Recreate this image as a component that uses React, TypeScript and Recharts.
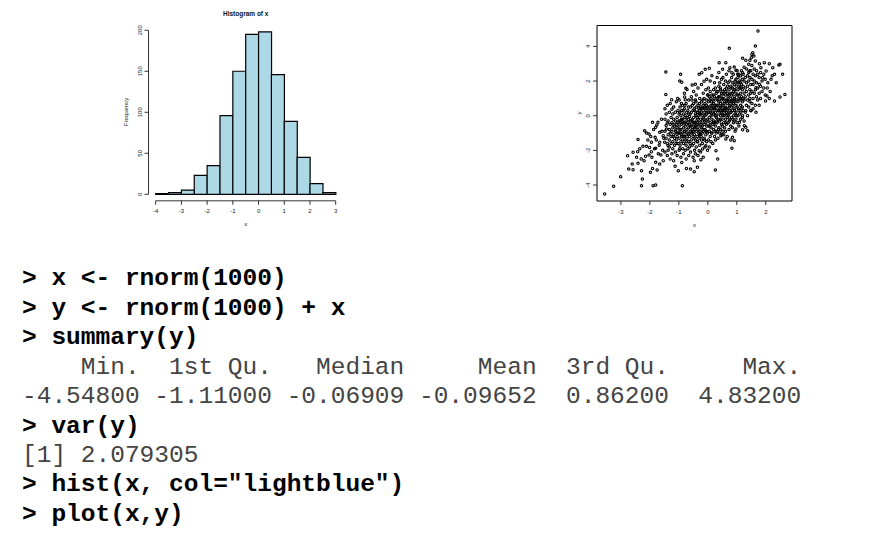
import { Bar, BarChart, ReferenceArea, ReferenceLine, Scatter, ScatterChart, XAxis, YAxis } from "recharts";

// histogram of x (bin centres, counts)
const binMids = [-3.75, -3.25, -2.75, -2.25, -1.75, -1.25, -0.75, -0.25, 0.25, 0.75, 1.25, 1.75, 2.25, 2.75];
const binCounts = [1, 2, 5, 23, 35, 96, 150, 195, 198, 146, 89, 45, 13, 2];
const histXTicks = [-4, -3, -2, -1, 0, 1, 2, 3];
const histYTicks = [0, 50, 100, 150, 200];

const scatterXTicks = [-3, -2, -1, 0, 1, 2];
const scatterYTicks = [-4, -2, 0, 2, 4];

// scatter: sparse points read one by one
const lowerLeftPoints: [number, number][] = [
  [-3.56, -4.52], [-3.25, -4.07], [-3.01, -3.52], [-2.73, -3.08], [-2.58, -3.12], [-2.61, -2.79], [-2.77, -2.31],
  [-2.58, -2.11], [-2.42, -2.08], [-2.41, -2.75], [-2.3, -2.5], [-2.15, -2.34], [-2.03, -2.27], [-1.95, -2.08],
  [-1.8, -1.88], [-2.01, -1.83], [-2.12, -1.77], [-2.24, -1.77], [-2.29, -3.17], [-2.26, -3.65], [-2.29, -4.04],
  [-1.98, -3.27], [-1.91, -3.04], [-1.75, -3.13], [-1.8, -2.69], [-1.66, -2.79], [-1.54, -2.6], [-1.89, -4.04],
  [-1.8, -4.0], [-1.02, -3.17], [-1.13, -2.92], [-0.88, -4.04], [-0.74, -3.04], [-0.6, -3.08], [-2.18, -0.87],
  [-2.12, -1.0], [-2.03, -1.06], [-2.41, -1.38], [-1.91, -0.38], [-1.72, -0.38], [-1.8, -0.67], [-1.66, -0.96],
  [-1.82, -1.25], [-1.66, -1.53], [-1.95, -1.53], [-1.54, -1.15], [-1.43, -0.77], [-1.49, -1.53], [-1.37, -1.73],
  [-2.35, -1.9], [-2.2, -2.6], [-2.07, -1.4], [-2.46, -2.4], [-1.97, -1.2], [-1.93, -2.4], [-1.87, -0.8],
  [-1.84, -1.9], [-1.78, -1.4], [-1.76, -0.53], [-1.71, -2.2], [-1.68, -1.7], [-1.62, -2.27], [-1.58, -0.9],
  [-1.56, -2.0], [-1.52, -1.3], [-1.6, -0.2],
];

const upperPoints: [number, number][] = [
  [-1.45, 2.52], [-0.94, 2.39], [-0.97, 2.0], [-0.9, 1.93], [-0.76, 1.58], [-0.54, 1.77], [-0.43, 1.81],
  [-1.45, 1.23], [-1.25, 0.92], [-1.04, 1.0], [-0.8, 1.08], [-0.78, 0.92], [-0.13, 1.99],
  [1.73, 4.89], [0.74, 3.89], [1.64, 4.02], [1.55, 3.64], [1.52, 3.54], [1.59, 3.44], [1.5, 3.35], [1.45, 3.2],
  [0.39, 3.06], [0.62, 3.06], [1.2, 3.31], [1.31, 3.2], [1.41, 2.97], [1.64, 3.16], [1.78, 3.0], [1.95, 3.06],
  [2.12, 3.0], [2.45, 2.93], [2.49, 2.97], [-0.09, 2.68], [0.05, 2.74], [-0.21, 2.48], [-0.3, 2.39], [0.51, 2.68],
  [0.76, 2.77], [0.91, 2.81], [0.97, 2.62], [0.83, 2.48], [1.03, 2.39], [1.2, 2.48], [1.43, 2.58], [1.83, 2.77],
  [2.01, 2.58], [2.24, 2.77], [2.3, 2.39], [2.18, 2.1], [1.89, 2.19], [2.07, 1.9], [1.78, 1.81], [1.66, 1.62],
  [2.58, 2.39], [2.66, 1.23], [2.49, 1.08], [2.3, 0.85], [2.12, 1.0], [1.99, 0.85], [2.04, 1.14],
  [2.05, 1.6], [2.15, 1.4], [2.22, 2.3], [2.36, 1.9],
];

const lowerRightPoints: [number, number][] = [
  [0.26, -3.13], [0.34, -2.5], [0.83, -1.88], [-0.24, -2.54], [-0.36, -2.98], [-0.47, -3.23], [-0.47, -2.6],
  [1.26, -0.58], [1.31, -0.67], [1.2, -0.81], [1.37, -0.87], [0.85, -1.25], [0.91, -1.44], [0.62, -1.34],
  [0.45, -1.15], [0.28, -2.02], [-0.07, -1.73], [-0.18, -1.92], [-0.3, -2.02], [0.97, -0.77], [1.09, -0.38],
  [1.2, 0.0], [1.66, 0.2], [1.49, 0.29], [1.31, 0.29],
];

// dense middle of the cloud, read as columns: x, then the y values seen around it
const coreColumns: [number, number[]][] = [
  [-1.48, [-2.1, -0.9, -0.2, 0.4]], [-1.44, [-1.3, -0.57, 0.1]], [-1.4, [-2.3, -1.6, -0.4, 0.6]],
  [-1.37, [-1.1, -0.3, -2.0]], [-1.33, [-1.8, -0.8, 0.2, -1.4]], [-1.3, [-2.5, -0.5, 0.7, -1.0]],
  [-1.27, [-1.6, -0.1, -1.2]], [-1.24, [-2.2, -0.9, 0.38, -0.4]], [-1.21, [-1.5, -0.7, 0.1, -1.9]],
  [-1.18, [-1.1, -0.2, -2.6, 0.5]], [-1.15, [-1.7, -0.6, -1.3]], [-1.12, [-0.9, -2.1, 0.2, -0.3]],
  [-1.09, [-1.4, -0.5, -1.0, 0.8]], [-1.06, [-2.3, -1.2, -0.1, -0.7]], [-1.03, [-1.6, -0.4, 0.3, -1.0]],
  [-0.99, [-2.0, -1.3, -0.6, 0.1, 0.9]], [-0.96, [-1.7, -1.0, -0.3, 0.5]], [-0.93, [-2.4, -1.5, -0.8, 0.0, -0.4]],
  [-0.9, [-1.2, -0.5, 0.3, -2.7]], [-0.87, [-1.9, -1.0, -0.2, 0.6, -1.4]], [-0.84, [-1.6, -0.7, 0.1, -2.2]],
  [-0.81, [-1.2, -0.4, 0.4, -0.9, 1.3]], [-0.78, [-2.0, -1.4, -0.6, 0.0]], [-0.75, [-1.1, -0.3, 0.7, -1.7, -2.5]],
  [-0.72, [-0.8, -0.1, 1.52, -1.3]], [-0.69, [-1.9, -1.0, -0.4, 0.3]], [-0.66, [-1.5, -0.7, 0.1, 0.9, -2.3]],
  [-0.63, [-1.2, -0.5, -0.05, -1.8]], [-0.6, [-2.1, -0.9, -0.3, 0.5]], [-0.57, [-1.4, -0.6, 0.2, 1.1, -1.0]],
  [-0.54, [-1.7, -0.8, -0.2, 0.6]], [-0.51, [-2.4, -1.2, -0.4, 0.3, -0.9]],
  [-0.49, [-1.6, -0.9, -0.1, 0.7, 1.4]], [-0.46, [-2.0, -1.1, -0.4, 0.3, -0.7]], [-0.43, [-1.4, -0.6, 0.1, 0.9, -2.2]],
  [-0.4, [-1.8, -0.9, -0.3, 0.5, 1.2]], [-0.37, [-1.2, -0.5, 0.2, -1.5, -0.1]], [-0.34, [-2.3, -0.8, -0.2, 0.6, 1.6]],
  [-0.31, [-1.3, -0.6, 0.0, 0.4, -1.0]], [-0.28, [-1.7, -0.4, 0.3, 1.0, -0.9]], [-0.25, [-2.1, -1.1, -0.2, 0.5, 0.1]],
  [-0.22, [-1.4, -0.7, 0.2, 0.8, 1.8]], [-0.19, [-1.0, -0.3, 0.4, -1.6, -0.6]], [-0.16, [-2.4, -0.9, -0.1, 0.6, 1.3]],
  [-0.13, [-1.3, -0.5, 0.2, 1.0, -0.2]], [-0.1, [-1.8, -0.8, 0.0, 0.7, 0.4]], [-0.07, [-1.1, -0.4, 0.3, 1.5, -0.9]],
  [-0.04, [-1.5, -0.6, 0.1, 0.9, 2.1]], [-0.01, [-2.0, -1.0, -0.2, 0.5, 1.2]],
  [0.02, [-1.4, -0.6, 0.2, 0.8, 1.6]], [0.05, [-0.9, -0.1, 0.5, 1.1, -1.8]], [0.08, [-1.2, -0.4, 0.3, 1.4, 2.0]],
  [0.11, [-0.7, 0.0, 0.6, -1.5, 1.0]], [0.14, [-1.0, -0.2, 0.4, 1.2, 2.3]], [0.17, [-1.6, -0.5, 0.2, 0.9, 0.6]],
  [0.2, [-0.8, 0.1, 0.7, 1.5, -0.3]], [0.23, [-1.2, -0.4, 0.4, 1.1, 1.9]], [0.26, [-0.6, 0.2, 0.9, 1.6, -1.4]],
  [0.29, [-1.0, -0.1, 0.5, 1.3, 0.0]], [0.32, [-0.4, 0.3, 1.0, 2.2, -0.9]], [0.35, [-1.3, -0.2, 0.6, 1.4, 0.9]],
  [0.38, [-0.7, 0.1, 0.8, 1.7, 2.5]], [0.41, [-0.3, 0.4, 1.1, -1.0, 1.9]], [0.44, [-0.8, 0.0, 0.7, 1.5, 0.3]],
  [0.47, [-0.5, 0.2, 0.9, 1.3, 2.1]], [0.49, [-1.1, -0.2, 0.5, 1.2, 0.1]],
  [0.52, [-0.9, 0.0, 0.6, 1.4, 2.2]], [0.55, [-0.4, 0.3, 1.0, 1.8, -1.1]], [0.58, [-0.7, 0.1, 0.8, 1.5, 0.4]],
  [0.61, [-0.2, 0.5, 1.2, 2.0, -0.9]], [0.64, [-0.5, 0.2, 0.9, 1.6, 2.4]], [0.67, [-1.2, -0.1, 0.7, 1.3, 0.3]],
  [0.7, [-0.4, 0.4, 1.1, 1.9, 0.0]], [0.73, [-0.8, 0.1, 0.8, 1.5, 2.6]], [0.76, [-0.2, 0.6, 1.3, 2.0, 0.3]],
  [0.79, [-0.6, 0.2, 1.0, 1.7, -1.4]], [0.82, [-0.1, 0.5, 1.2, 2.2, 0.8]], [0.85, [-0.7, 0.3, 0.9, 1.6, 1.3]],
  [0.88, [0.0, 0.7, 1.4, 2.4, -0.4]], [0.91, [-0.3, 0.4, 1.1, 1.8, 0.9]], [0.94, [-0.9, 0.1, 0.8, 1.5, 2.0]],
  [0.97, [0.2, 0.6, 1.3, 2.1, -0.2]],
  [1.01, [-0.4, 0.5, 1.2, 1.9, 2.6]], [1.04, [0.0, 0.8, 1.5, 2.2]], [1.07, [-0.6, 0.3, 1.0, 1.7, 2.4]],
  [1.1, [0.1, 0.9, 1.6, 2.0]], [1.13, [-0.2, 0.6, 1.3, 2.3, 1.9]], [1.16, [0.4, 1.1, 1.8, 2.6]],
  [1.19, [-0.1, 0.8, 1.5, 2.1, 0.5]], [1.22, [0.3, 1.0, 1.7, 2.4]], [1.25, [0.9, 1.3, 2.0, -0.3, 2.8]],
  [1.29, [0.2, 1.1, 1.6, 2.2]], [1.33, [0.6, 1.4, 1.9, 2.7]], [1.37, [0.0, 0.9, 1.7, 2.3]],
  [1.41, [0.5, 1.2, 2.0, 2.5]], [1.45, [0.8, 1.5, 2.2, 1.0]], [1.48, [0.3, 1.3, 1.8, 2.6]],
  [1.52, [0.7, 1.4, 2.1, 2.9]], [1.56, [1.0, 1.8, 2.4, 0.4]], [1.6, [1.3, 2.0, 2.7]], [1.64, [0.6, 1.5, 2.3]],
  [1.68, [1.1, 1.9, 2.6]], [1.72, [0.9, 1.6, 2.4]], [1.77, [1.3, 2.2, 0.6]], [1.82, [1.7, 2.5, 1.0]],
  [1.87, [1.4, 2.0]], [1.93, [1.6, 2.4]], [1.98, [1.2, 2.1]],
];

// extra points filling the darkest part of the cloud
const coreFillColumns: [number, number[]][] = [
  [-1.2, [-1.2, -0.5]], [-1.1, [-0.8, -1.6]], [-1.0, [-1.0, -0.3]],
  [-0.97, [-0.8, 0.2, -1.9]], [-0.91, [-0.2, -1.1, 0.7]], [-0.85, [-1.2, -0.4, 0.3]], [-0.79, [-0.9, -0.1, 0.6]],
  [-0.73, [-1.5, -0.5, 0.2]], [-0.67, [-1.1, -0.2, 0.5]], [-0.61, [-1.6, -0.6, 0.1]], [-0.55, [-1.0, -0.3, 0.9]],
  [-0.47, [-1.3, -0.5, 0.4]], [-0.41, [-0.7, 0.0, 0.8]], [-0.35, [-1.5, -0.4, 0.2]], [-0.29, [-1.1, 0.1, 0.7]],
  [-0.23, [-0.5, -1.2, 0.4]], [-0.17, [-0.8, 0.0, 0.9]], [-0.11, [-1.4, -0.3, 0.5]], [-0.05, [-0.9, 0.1, 0.6]],
  [0.01, [-0.3, 0.4, 1.2]], [0.07, [-0.6, 0.2, 0.9]], [0.13, [-1.0, 0.1, 0.8]], [0.19, [-0.4, 0.4, 1.2]],
  [0.25, [-0.9, 0.0, 0.6]], [0.31, [-0.3, 0.6, 1.4]], [0.37, [-0.8, 0.3, 1.1]], [0.43, [-0.2, 0.5, 1.6]],
  [0.5, [-0.6, 0.3, 1.0]], [0.56, [0.0, 0.7, 1.3]], [0.62, [-0.4, 0.4, 1.4]], [0.68, [0.1, 0.9, 1.7]],
  [0.74, [-0.3, 0.5, 1.2]], [0.8, [0.2, 0.8, 1.6]], [0.86, [-0.2, 0.6, 1.9]], [0.92, [0.3, 1.0, 1.5]],
  [0.98, [0.0, 0.9, 1.7]], [1.05, [0.4, 1.2, 1.9]], [1.14, [0.2, 1.0, 1.6]],
];

const histData = binMids.map((mid, i) => ({ mid, count: binCounts[i] }));
const scatterData = [
  ...lowerLeftPoints,
  ...upperPoints,
  ...lowerRightPoints,
  ...[...coreColumns, ...coreFillColumns].flatMap(([x, ys]) => ys.map((y) => [x, y] as [number, number])),
].map(([x, y]) => ({ x, y }));

const labelFont = "'Liberation Sans', Arial, sans-serif";
const consoleFont = "'Courier New', Courier, 'Nimbus Mono PS', FreeMono, 'Liberation Mono', monospace";

function BottomTick({ x, y, payload }: any) {
  return (
    <g>
      <line x1={x} x2={x} y1={y} y2={y + 4} stroke="#000" strokeWidth={0.8} />
      <text x={x} y={y + 10.5} textAnchor="middle" dominantBaseline="central" fontSize={6} fontFamily={labelFont} fill="#222">
        {payload.value}
      </text>
    </g>
  );
}

function LeftTick({ x, y, payload }: any) {
  return (
    <g>
      <line x1={x - 4} x2={x} y1={y} y2={y} stroke="#000" strokeWidth={0.8} />
      <text
        transform={`translate(${x - 9},${y}) rotate(-90)`}
        textAnchor="middle"
        dominantBaseline="central"
        fontSize={6}
        fontFamily={labelFont}
        fill="#222"
      >
        {payload.value}
      </text>
    </g>
  );
}

function Dot({ cx, cy }: any) {
  return <circle cx={cx} cy={cy} r={1.2} fill="none" stroke="#000" strokeWidth={1.1} />;
}

const consoleLines: [string, boolean][] = [
  ["> x <- rnorm(1000)", true],
  ["> y <- rnorm(1000) + x", true],
  ["> summary(y)", true],
  ["    Min.  1st Qu.   Median     Mean  3rd Qu.     Max.", false],
  ["-4.54800 -1.11000 -0.06909 -0.09652  0.86200  4.83200", false],
  ["> var(y)", true],
  ["[1] 2.079305", false],
  ['> hist(x, col="lightblue")', true],
  ["> plot(x,y)", true],
];

export default function App() {
  return (
    <div style={{ position: "absolute", left: 0, top: 0, width: 883, height: 534, background: "#fff", overflow: "hidden" }}>
      <div style={{ position: "absolute", left: 100, top: 0 }}>
        <BarChart width={260} height={240} data={histData} margin={{ top: 25.4, right: 17.1, bottom: 9.2, left: 8.5 }} barCategoryGap={0} barGap={0}>
          <XAxis
            dataKey="mid"
            type="number"
            domain={[-4.28, 3.28]}
            ticks={histXTicks}
            interval={0}
            axisLine={false}
            tickLine={false}
            tickSize={0}
            tickMargin={0}
            height={30}
            tick={<BottomTick />}
          />
          <YAxis
            type="number"
            domain={[-7.92, 205.92]}
            ticks={histYTicks}
            interval={0}
            axisLine={false}
            tickLine={false}
            tickSize={0}
            tickMargin={0}
            width={40}
            tick={<LeftTick />}
          />
          <Bar dataKey="count" fill="#add8e6" stroke="#000" strokeWidth={1.2} isAnimationActive={false} />
          <ReferenceLine segment={[{ x: -4, y: -7.92 }, { x: 3, y: -7.92 }]} stroke="#000" strokeWidth={0.8} ifOverflow="visible" />
          <ReferenceLine segment={[{ x: -4.28, y: 0 }, { x: -4.28, y: 200 }]} stroke="#000" strokeWidth={0.8} ifOverflow="visible" />
        </BarChart>
      </div>

      <div style={{ position: "absolute", left: 540, top: 0 }}>
        <ScatterChart width={270} height={240} margin={{ top: 25.5, right: 18, bottom: 14, left: 27 }}>
          <XAxis
            dataKey="x"
            type="number"
            domain={[-3.825, 2.904]}
            ticks={scatterXTicks}
            interval={0}
            axisLine={false}
            tickLine={false}
            tickSize={0}
            tickMargin={0}
            height={25}
            tick={<BottomTick />}
          />
          <YAxis
            dataKey="y"
            type="number"
            domain={[-4.923, 5.207]}
            ticks={scatterYTicks}
            interval={0}
            axisLine={false}
            tickLine={false}
            tickSize={0}
            tickMargin={0}
            width={30}
            tick={<LeftTick />}
          />
          <ReferenceArea x1={-3.825} x2={2.904} y1={-4.923} y2={5.207} fill="none" stroke="#000" strokeWidth={1} />
          <Scatter data={scatterData} shape={<Dot />} isAnimationActive={false} />
        </ScatterChart>
      </div>

      <svg width={883} height={240} style={{ position: "absolute", left: 0, top: 0, pointerEvents: "none" }}>
        <text x={245.7} y={13.5} textAnchor="middle" dominantBaseline="central" fontSize={6.5} fontWeight="bold" fontFamily={labelFont} fill="#111">
          Histogram of x
        </text>
        <text transform="translate(126,112) rotate(-90)" textAnchor="middle" dominantBaseline="central" fontSize={6} fontFamily={labelFont} fill="#222">
          Frequency
        </text>
        <text x={245.7} y={224} textAnchor="middle" dominantBaseline="central" fontSize={6} fontFamily={labelFont} fill="#222">
          x
        </text>
        <text transform="translate(579,113) rotate(-90)" textAnchor="middle" dominantBaseline="central" fontSize={6} fontFamily={labelFont} fill="#222">
          y
        </text>
        <text x={694.5} y={225} textAnchor="middle" dominantBaseline="central" fontSize={6} fontFamily={labelFont} fill="#222">
          x
        </text>
      </svg>

      {consoleLines.map(([line, bold], i) => (
        <div
          key={i}
          style={{
            position: "absolute",
            left: 22,
            top: 264.3 + i * 29.45,
            fontFamily: consoleFont,
            fontSize: 24.5,
            lineHeight: "29.5px",
            whiteSpace: "pre",
            fontWeight: bold ? "bold" : "normal",
            color: bold ? "#000" : "#444",
          }}
        >
          {line}
        </div>
      ))}
    </div>
  );
}
